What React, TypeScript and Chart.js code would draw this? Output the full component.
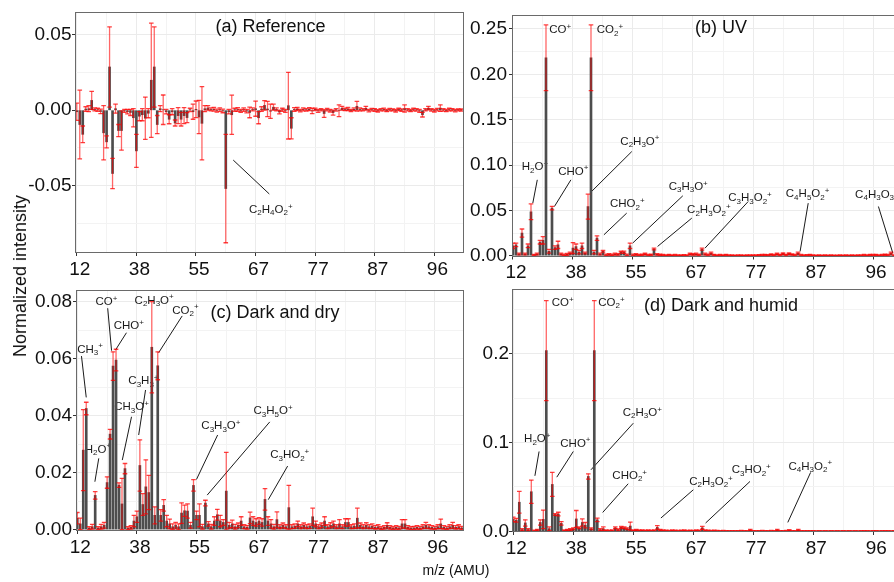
import React, { useEffect, useRef } from 'react';
import { Chart, registerables } from 'chart.js';

Chart.register(...registerables);

const FONT = "'Liberation Sans', Arial, Helvetica, sans-serif";

// x axis: ion index (categories), labelled every 20 ions with the nominal m/z
const tickIdx = [0, 20, 40, 60, 80, 100, 120];
const tickLabels = ['12', '38', '55', '67', '77', '87', '96'];
const minorIdx = [10, 30, 50, 70, 90, 110];

// (a) Reference
const refValues = [
  -0.001, -0.0095, -0.016, 0.0008, 0.001, 0.0065, 0.0005, 0.0003, -0.0008, -0.015,
  -0.021, 0.0287, -0.042, 0.001, -0.0135, -0.0135, -0.0005, -0.001, -0.0015, -0.005,
  -0.027, -0.004, -0.003, -0.0053, -0.002, 0.0199, 0.0287, -0.0095, 0.001, 0.0003,
  -0.001, -0.006, -0.001, -0.0085, -0.0036, -0.006, -0.0036, -0.0049, 0.0002, -0.001,
  0.0006, -0.0045, -0.0087, 0.001, 0.0015, 0.0005, 0.0006, -0.0003, 0.0004, -0.0005,
  -0.052, -0.001, -0.003, 0.0003, 0.0005, -0.0005, 0.0004, -0.0006, -0.0015, 0.0005,
  0.001, -0.005, 0.0008, 0.0032, 0.0008, -0.0007, 0.002, 0.0005, -0.0012, 0.0003,
  -0.0004, 0.003, -0.012, 0.0005, 0.0008, -0.0003, 0.0005, 0.0002, 0.0007, -0.0005,
  0.0006, -0.0004, 0.0003, -0.0022, 0.0004, -0.0003, -0.0016, 0.0002, -0.0003, 0.0013,
  0.0005, 0.0008, -0.0002, 0.0006, 0.0026, 0.0005, 0.0003, 0.0013, -0.0003, 0.0004,
  0.0002, -0.0004, 0.0003, 0.0005, -0.0002, 0.0004, 0.0002, -0.0003, 0.0005, 0.0001,
  0.0011, 0.0003, -0.0002, 0.0004, 0.0002, -0.0005, -0.003, 0.0003, 0.0014, 0.0002,
  -0.0003, 0.0004, 0.0014, 0.0002, -0.0002, 0.0004, 0.0003, -0.0003, 0.0002, 0.0001,
];
const refErrors = [
  0.0057, 0.0228, 0.0055, 0.0015, 0.002, 0.006, 0.001, 0.001, 0.0015, 0.018,
  0.004, 0.0266, 0.01, 0.003, 0.004, 0.013, 0.001, 0.0015, 0.002, 0.006,
  0.011, 0.003, 0.004, 0.014, 0.003, 0.0379, 0.0266, 0.006, 0.002, 0.0098,
  0.0015, 0.003, 0.002, 0.002, 0.0053, 0.0045, 0.0053, 0.0033, 0.0011, 0.005,
  0.0055, 0.011, 0.0243, 0.002, 0.0015, 0.001, 0.0012, 0.001, 0.0012, 0.0012,
  0.036, 0.0015, 0.013, 0.001, 0.0012, 0.001, 0.0011, 0.0012, 0.0035, 0.001,
  0.005, 0.004, 0.0015, 0.0032, 0.005, 0.0047, 0.002, 0.001, 0.0012, 0.001,
  0.001, 0.0221, 0.007, 0.0012, 0.001, 0.0008, 0.001, 0.0008, 0.001, 0.0018,
  0.0008, 0.001, 0.0008, 0.0026, 0.0008, 0.0009, 0.0016, 0.0008, 0.0039, 0.0013,
  0.0008, 0.001, 0.0008, 0.0009, 0.0032, 0.001, 0.0008, 0.0013, 0.0008, 0.0008,
  0.0009, 0.0008, 0.0007, 0.0009, 0.0008, 0.0008, 0.0007, 0.0009, 0.0008, 0.0008,
  0.0024, 0.0008, 0.0008, 0.0009, 0.0008, 0.001, 0.0015, 0.0008, 0.0012, 0.0008,
  0.0009, 0.0008, 0.0022, 0.0008, 0.0007, 0.0009, 0.0008, 0.0008, 0.0007, 0.0007,
];

// (b) UV
const uvValues = [
  0.011, 0.012, 0.002, 0.025, 0.002, 0.011, 0.0485, 0.001, 0.002, 0.015,
  0.017, 0.2183, 0.005, 0.0525, 0.009, 0.012, 0.002, 0.001, 0.0015, 0.003,
  0.0085, 0.01, 0.004, 0.011, 0.003, 0.0541, 0.2183, 0.004, 0.0195, 0.002,
  0.005, 0.001, 0.0015, 0.001, 0.002, 0.0015, 0.004, 0.004, 0.001, 0.011,
  0.001, 0.0015, 0.0008, 0.001, 0.002, 0.0008, 0.0012, 0.0075, 0.0015, 0.001,
  0.0008, 0.0006, 0.001, 0.0005, 0.0008, 0.0006, 0.0005, 0.0007, 0.0006, 0.002,
  0.0015, 0.002, 0.001, 0.0073, 0.002, 0.001, 0.003, 0.001, 0.0006, 0.0008,
  0.0005, 0.001, 0.0006, 0.0005, 0.0004, 0.0006, 0.0005, 0.0004, 0.0005, 0.0006,
  0.0005, 0.0006, 0.0007, 0.0008, 0.001, 0.0007, 0.0015, 0.0008, 0.002, 0.001,
  0.0025, 0.001, 0.0025, 0.0015, 0.0008, 0.003, 0.0008, 0.0006, 0.0007, 0.001,
  0.0005, 0.0004, 0.0005, 0.0004, 0.0005, 0.0004, 0.0005, 0.0004, 0.0004, 0.0005,
  0.0004, 0.0005, 0.0004, 0.0005, 0.0004, 0.0005, 0.0006, 0.0008, 0.0006, 0.001,
  0.0008, 0.001, 0.0006, 0.0008, 0.0012, 0.0008, 0.003, 0.0006, 0.0005, 0.0004,
];
const uvErrors = [
  0.003, 0.002, 0.001, 0.0045, 0.001, 0.002, 0.0086, 0.0005, 0.001, 0.002,
  0.004, 0.0362, 0.002, 0.002, 0.002, 0.004, 0.001, 0.0008, 0.001, 0.001,
  0.006, 0.003, 0.002, 0.003, 0.001, 0.0138, 0.0362, 0.002, 0.0025, 0.001,
  0.001, 0.0008, 0.0008, 0.0008, 0.001, 0.0008, 0.001, 0.0012, 0.0008, 0.003,
  0.0008, 0.0008, 0.0006, 0.0007, 0.0008, 0.0006, 0.0007, 0.001, 0.0008, 0.0007,
  0.0006, 0.0005, 0.0006, 0.0005, 0.0006, 0.0005, 0.0005, 0.0005, 0.0005, 0.0008,
  0.0008, 0.0009, 0.0007, 0.0011, 0.001, 0.0007, 0.001, 0.0006, 0.0005, 0.0006,
  0.0005, 0.0006, 0.0005, 0.0005, 0.0004, 0.0005, 0.0005, 0.0004, 0.0005, 0.0005,
  0.0005, 0.0005, 0.0005, 0.0006, 0.0006, 0.0005, 0.0007, 0.0006, 0.0008, 0.0006,
  0.0008, 0.0006, 0.0008, 0.0007, 0.0006, 0.001, 0.0006, 0.0005, 0.0005, 0.0006,
  0.0005, 0.0004, 0.0005, 0.0004, 0.0005, 0.0004, 0.0005, 0.0004, 0.0004, 0.0005,
  0.0004, 0.0005, 0.0004, 0.0005, 0.0004, 0.0005, 0.0005, 0.0006, 0.0005, 0.0006,
  0.0006, 0.0006, 0.0005, 0.0006, 0.0007, 0.0006, 0.001, 0.0005, 0.0005, 0.0004,
];

// (c) Dark and dry
const dryValues = [
  0.004, 0.002, 0.0279, 0.0425, 0.0005, 0.001, 0.012, 0.0005, 0.001, 0.0015,
  0.0165, 0.0335, 0.0574, 0.0595, 0.0156, 0.009, 0.0214, 0.0005, 0.0008, 0.003,
  0.0045, 0.0225, 0.0088, 0.015, 0.013, 0.064, 0.005, 0.0575, 0.005, 0.0085,
  0.003, 0.002, 0.001, 0.0015, 0.001, 0.0058, 0.0066, 0.0065, 0.0015, 0.0155,
  0.005, 0.005, 0.001, 0.0093, 0.002, 0.001, 0.003, 0.0052, 0.003, 0.0025,
  0.0135, 0.0015, 0.002, 0.001, 0.0015, 0.003, 0.001, 0.0008, 0.0041, 0.003,
  0.0025, 0.003, 0.0025, 0.0106, 0.003, 0.002, 0.001, 0.0035, 0.001, 0.0015,
  0.001, 0.0077, 0.001, 0.0012, 0.002, 0.001, 0.0015, 0.001, 0.0012, 0.0045,
  0.002, 0.001, 0.0015, 0.003, 0.001, 0.0015, 0.002, 0.001, 0.002, 0.001,
  0.0025, 0.0025, 0.001, 0.0012, 0.004, 0.0015, 0.001, 0.0015, 0.001, 0.0012,
  0.0008, 0.001, 0.0005, 0.0008, 0.0015, 0.0008, 0.0005, 0.0008, 0.0006, 0.002,
  0.002, 0.0008, 0.0005, 0.0006, 0.0008, 0.0006, 0.001, 0.0015, 0.001, 0.0008,
  0.0006, 0.001, 0.002, 0.0008, 0.0006, 0.001, 0.0015, 0.0008, 0.001, 0.0006,
];
const dryErrors = [
  0.002, 0.002, 0.0142, 0.0022, 0.0005, 0.0008, 0.0013, 0.0005, 0.0008, 0.001,
  0.002, 0.0017, 0.005, 0.0038, 0.0008, 0.009, 0.0018, 0.0005, 0.0006, 0.002,
  0.002, 0.009, 0.0038, 0.0095, 0.006, 0.016, 0.003, 0.0049, 0.002, 0.002,
  0.002, 0.0017, 0.001, 0.001, 0.001, 0.0036, 0.002, 0.0025, 0.001, 0.002,
  0.0015, 0.004, 0.0008, 0.001, 0.0008, 0.0008, 0.0015, 0.0019, 0.002, 0.001,
  0.0136, 0.001, 0.0013, 0.0008, 0.0008, 0.0015, 0.0007, 0.0006, 0.002, 0.0015,
  0.0013, 0.0012, 0.0013, 0.0038, 0.0015, 0.0015, 0.0008, 0.0027, 0.0007, 0.0008,
  0.0007, 0.0078, 0.0007, 0.0008, 0.001, 0.0007, 0.0008, 0.0007, 0.0008, 0.003,
  0.001, 0.0007, 0.0008, 0.0015, 0.0007, 0.0009, 0.001, 0.0007, 0.0015, 0.0007,
  0.0013, 0.0013, 0.0007, 0.0008, 0.0035, 0.0008, 0.0007, 0.0009, 0.0007, 0.0008,
  0.0006, 0.0007, 0.0005, 0.0006, 0.0009, 0.0006, 0.0005, 0.0006, 0.0005, 0.0015,
  0.0015, 0.0006, 0.0005, 0.0005, 0.0006, 0.0005, 0.0007, 0.001, 0.0007, 0.0006,
  0.0005, 0.0007, 0.0017, 0.0006, 0.0005, 0.0007, 0.001, 0.0006, 0.0007, 0.0005,
];

// (d) Dark and humid
const humidValues = [
  0.0135, 0.0125, 0.0328, 0.002, 0.0095, 0.002, 0.0446, 0.0008, 0.0015, 0.01,
  0.0135, 0.2034, 0.003, 0.0528, 0.019, 0.0195, 0.009, 0.001, 0.0015, 0.002,
  0.003, 0.014, 0.004, 0.01, 0.007, 0.0618, 0.003, 0.2034, 0.013, 0.002,
  0.003, 0.001, 0.0008, 0.001, 0.004, 0.002, 0.0045, 0.004, 0.003, 0.006,
  0.001, 0.0015, 0.001, 0.0012, 0.0008, 0.001, 0.0008, 0.001, 0.0045, 0.0015,
  0.001, 0.0008, 0.0006, 0.001, 0.0008, 0.0006, 0.0008, 0.001, 0.0006, 0.0008,
  0.0006, 0.001, 0.0008, 0.004, 0.001, 0.0008, 0.0006, 0.0008, 0.0006, 0.0005,
  0.0006, 0.0005, 0.0004, 0.0005, 0.0004, 0.0005, 0.0006, 0.0005, 0.0004, 0.0015,
  0.0005, 0.0004, 0.0005, 0.0006, 0.0005, 0.0004, 0.0006, 0.0005, 0.0015, 0.0005,
  0.0004, 0.0006, 0.0012, 0.0005, 0.0004, 0.0015, 0.0005, 0.0004, 0.0005, 0.0004,
  0.0004, 0.0003, 0.0004, 0.0003, 0.0004, 0.0003, 0.0004, 0.0003, 0.0004, 0.0003,
  0.0004, 0.0003, 0.0004, 0.0003, 0.0004, 0.0003, 0.0004, 0.0005, 0.0004, 0.0003,
  0.0004, 0.0005, 0.0003, 0.0004, 0.0005, 0.0004, 0.0003, 0.0004, 0.0003, 0.0004,
];
const humidErrors = [
  0.0025, 0.002, 0.0122, 0.001, 0.0035, 0.001, 0.0131, 0.0005, 0.0008, 0.003,
  0.0105, 0.0562, 0.002, 0.0135, 0.001, 0.002, 0.002, 0.0006, 0.0008, 0.001,
  0.001, 0.0095, 0.001, 0.004, 0.003, 0.003, 0.001, 0.0562, 0.002, 0.001,
  0.002, 0.0006, 0.0005, 0.0006, 0.001, 0.0008, 0.001, 0.001, 0.001, 0.0045,
  0.0006, 0.0007, 0.0006, 0.0006, 0.0005, 0.0006, 0.0005, 0.0006, 0.002, 0.0007,
  0.0006, 0.0005, 0.0005, 0.0006, 0.0005, 0.0005, 0.0005, 0.0006, 0.0005, 0.0005,
  0.0005, 0.0006, 0.0005, 0.0016, 0.0006, 0.0005, 0.0005, 0.0005, 0.0005, 0.0004,
  0.0005, 0.0004, 0.0004, 0.0004, 0.0004, 0.0004, 0.0005, 0.0004, 0.0004, 0.0008,
  0.0004, 0.0004, 0.0004, 0.0005, 0.0004, 0.0004, 0.0005, 0.0004, 0.0008, 0.0004,
  0.0004, 0.0005, 0.0007, 0.0004, 0.0004, 0.0008, 0.0004, 0.0004, 0.0004, 0.0004,
  0.0004, 0.0003, 0.0004, 0.0003, 0.0004, 0.0003, 0.0004, 0.0003, 0.0004, 0.0003,
  0.0004, 0.0003, 0.0004, 0.0003, 0.0004, 0.0003, 0.0004, 0.0004, 0.0004, 0.0003,
  0.0004, 0.0004, 0.0003, 0.0004, 0.0004, 0.0004, 0.0003, 0.0004, 0.0003, 0.0004,
];

// ion labels (position in data units: ion index, intensity)
type Label = { t: string; x: number; y: number; left?: boolean };
type Leader = [number, number, number, number];

const refLabels: Label[] = [{ t: 'C2H4O2+', x: 65.1, y: -0.0654 }];
const refLeaders: Leader[] = [[52.5, -0.0331, 64.6, -0.0556]];

const uvLabels: Label[] = [
  { t: 'CO+', x: 12.1, y: 0.2496, left: true },
  { t: 'CO2+', x: 27.9, y: 0.2496, left: true },
  { t: 'H2O+', x: 7.3, y: 0.0991 },
  { t: 'CHO+', x: 20.1, y: 0.094 },
  { t: 'C2H3O+', x: 42.3, y: 0.127 },
  { t: 'CHO2+', x: 38.1, y: 0.058 },
  { t: 'C3H3O+', x: 58.4, y: 0.0771 },
  { t: 'C2H3O2+', x: 65.3, y: 0.0514 },
  { t: 'C3H3O2+', x: 79, y: 0.0646 },
  { t: 'C4H5O2+', x: 98.2, y: 0.069 },
  { t: 'C4H3O3+', x: 121.3, y: 0.0683 },
];
const uvLeaders: Leader[] = [
  [8.1, 0.0837, 6.6, 0.058], [19.3, 0.0837, 13.8, 0.0543], [39.6, 0.1149, 26.2, 0.0709],
  [37.9, 0.047, 30.3, 0.0231], [56.6, 0.0661, 39.9, 0.014], [59.6, 0.0415, 48.2, 0.0103],
  [78.4, 0.0598, 64, 0.0084], [98.4, 0.058, 95.7, 0.0048], [121.8, 0.0543, 126.6, 0.003],
];

const dryLabels: Label[] = [
  { t: 'CO+', x: 9.8, y: 0.0803 },
  { t: 'C2H3O+', x: 25.8, y: 0.0808 },
  { t: 'CO2+', x: 36.3, y: 0.0773 },
  { t: 'CHO+', x: 17.3, y: 0.0718 },
  { t: 'CH3+', x: 4.3, y: 0.0636 },
  { t: 'C3H3+', x: 22.2, y: 0.0525 },
  { t: 'CH3O+', x: 18.2, y: 0.0434 },
  { t: 'H2O+', x: 6.9, y: 0.0285 },
  { t: 'C3H3O+', x: 48.2, y: 0.0367 },
  { t: 'C3H5O+', x: 65.7, y: 0.0419 },
  { t: 'C3HO2+', x: 71.3, y: 0.0265 },
];
const dryLeaders: Leader[] = [
  [10.2, 0.0777, 11.5, 0.0628], [35.2, 0.075, 27.3, 0.0621], [16.5, 0.0691, 12.8, 0.063],
  [1.4, 0.0609, 3.0, 0.0464], [22.9, 0.049, 20.6, 0.0332], [18.2, 0.0396, 15.1, 0.0244],
  [7.2, 0.025, 5.9, 0.0168], [47.1, 0.0332, 40, 0.0176], [64.6, 0.0378, 43.6, 0.0121],
  [70.6, 0.0223, 64.1, 0.0105],
];

const humidLabels: Label[] = [
  { t: 'CO+', x: 12.8, y: 0.2584, left: true },
  { t: 'CO2+', x: 28.3, y: 0.2584, left: true },
  { t: 'H2O+', x: 8, y: 0.1049 },
  { t: 'CHO+', x: 20.7, y: 0.1 },
  { t: 'C2H3O+', x: 43, y: 0.1348 },
  { t: 'CHO2+', x: 38.8, y: 0.0637 },
  { t: 'C2H3O2+', x: 65.9, y: 0.0569 },
  { t: 'C3HO2+', x: 79.3, y: 0.07 },
  { t: 'C4H3O2+', x: 99, y: 0.0742 },
];
const humidLeaders: Leader[] = [
  [8.6, 0.0899, 7.2, 0.0625], [20, 0.0899, 14.5, 0.061], [40, 0.1217, 25.9, 0.0693],
  [38.3, 0.0536, 29.8, 0.0213], [60, 0.0468, 49.2, 0.015], [78.9, 0.0562, 64.1, 0.0094],
  [99.1, 0.0663, 91.5, 0.0101],
];

type Spec = {
  title: string; titleDx: number; titleDy: number;
  values: number[]; errors: number[]; labels: Label[]; leaders: Leader[];
  left: number; top: number; w: number; h: number;
  padTop: number; padRight: number; yAxisW: number; xAxisH: number; yPad: number;
  xMin: number; xMax: number; yMin: number; yMax: number;
  yTicks: number[]; yLabelStep: number; yDec: number;
};

const panels: Spec[] = [
  {
    title: '(a) Reference', titleDx: 195.5, titleDy: 13.6,
    values: refValues, errors: refErrors, labels: refLabels, leaders: refLeaders,
    left: 0, top: -2, w: 470, h: 292, padTop: 14, padRight: 6, yAxisW: 75, xAxisH: 37, yPad: 0.5,
    xMin: -0.6, xMax: 129.94, yMin: -0.0948, yMax: 0.0652,
    yTicks: [-0.075, -0.05, -0.025, 0, 0.025, 0.05], yLabelStep: 0.05, yDec: 2,
  },
  {
    title: '(b) UV', titleDx: 209, titleDy: 11.7,
    values: uvValues, errors: uvErrors, labels: uvLabels, leaders: uvLeaders,
    left: 470, top: 1, w: 440, h: 290, padTop: 14, padRight: 9, yAxisW: 42, xAxisH: 34.5, yPad: 2,
    xMin: -0.33, xMax: 129.33, yMin: -0.0008, yMax: 0.2654,
    yTicks: [0, 0.025, 0.05, 0.075, 0.1, 0.125, 0.15, 0.175, 0.2, 0.225, 0.25], yLabelStep: 0.05, yDec: 2,
  },
  {
    title: '(c) Dark and dry', titleDx: 199, titleDy: 22,
    values: dryValues, errors: dryErrors, labels: dryLabels, leaders: dryLeaders,
    left: 0, top: 276, w: 470, h: 292, padTop: 14, padRight: 6, yAxisW: 76, xAxisH: 37, yPad: 1,
    xMin: -0.44, xMax: 129.8, yMin: -0.0005, yMax: 0.0841,
    yTicks: [0, 0.01, 0.02, 0.03, 0.04, 0.05, 0.06, 0.07, 0.08], yLabelStep: 0.02, yDec: 2,
  },
  {
    title: '(d) Dark and humid', titleDx: 209, titleDy: 15.7,
    values: humidValues, errors: humidErrors, labels: humidLabels, leaders: humidLeaders,
    left: 470, top: 275, w: 440, h: 292, padTop: 14, padRight: 9, yAxisW: 42, xAxisH: 35, yPad: 0,
    xMin: -0.43, xMax: 129.23, yMin: -0.0007, yMax: 0.2727,
    yTicks: [0, 0.05, 0.1, 0.15, 0.2, 0.25], yLabelStep: 0.1, yDec: 1,
  },
];

function drawFormula(ctx: CanvasRenderingContext2D, text: string, x: number, yc: number, left: boolean) {
  const main = 11.5;
  const small = 8;
  const segs: { kind: string; s: string; w: number }[] = [];
  for (const ch of text) {
    const kind = ch >= '0' && ch <= '9' ? 'sub' : ch === '+' ? 'sup' : 'n';
    const last = segs[segs.length - 1];
    if (last && last.kind === kind) last.s += ch;
    else segs.push({ kind, s: ch, w: 0 });
  }
  let total = 0;
  for (const sg of segs) {
    ctx.font = `${sg.kind === 'n' ? main : small}px ${FONT}`;
    sg.w = ctx.measureText(sg.s).width;
    total += sg.w;
  }
  let cx = left ? x : x - total / 2;
  const base = yc + main * 0.36;
  ctx.textBaseline = 'alphabetic';
  ctx.textAlign = 'left';
  for (const sg of segs) {
    ctx.font = `${sg.kind === 'n' ? main : small}px ${FONT}`;
    const dy = sg.kind === 'sub' ? 2.5 : sg.kind === 'sup' ? -4.2 : 0;
    ctx.fillText(sg.s, cx, base + dy);
    cx += sg.w;
  }
}

function buildConfig(p: Spec): any {
  const isMajorX = (v: number) => tickIdx.indexOf(Math.round(v)) >= 0;
  const isMajorY = (v: number) => Math.abs(v / p.yLabelStep - Math.round(v / p.yLabelStep)) < 1e-6;

  const annotations = {
    id: 'annotations',
    beforeDatasetsDraw(chart: any) {
      const ctx: CanvasRenderingContext2D = chart.ctx;
      const xs = chart.scales.x;
      const ys = chart.scales.y;
      const a = chart.chartArea;
      ctx.save();
      ctx.fillStyle = '#111';
      ctx.font = `18px ${FONT}`;
      ctx.textAlign = 'center';
      ctx.textBaseline = 'alphabetic';
      ctx.fillText(p.title, a.left + p.titleDx, a.top + p.titleDy + 18 * 0.36);
      ctx.strokeStyle = 'rgba(0,0,0,0.9)';
      ctx.lineWidth = 1;
      for (const [x1, y1, x2, y2] of p.leaders) {
        ctx.beginPath();
        ctx.moveTo(xs.getPixelForValue(x1), ys.getPixelForValue(y1));
        ctx.lineTo(xs.getPixelForValue(x2), ys.getPixelForValue(y2));
        ctx.stroke();
      }
      ctx.fillStyle = '#1a1a1a';
      for (const l of p.labels) {
        drawFormula(ctx, l.t, xs.getPixelForValue(l.x), ys.getPixelForValue(l.y), !!l.left);
      }
      ctx.restore();
    },
  };

  const errorBars = {
    id: 'errorBars',
    afterDatasetsDraw(chart: any) {
      const ds = chart.data.datasets[0];
      const xs = chart.scales.x;
      const ys = chart.scales.y;
      const ctx: CanvasRenderingContext2D = chart.ctx;
      const a = chart.chartArea;
      ctx.save();
      ctx.beginPath();
      ctx.rect(a.left, a.top, a.right - a.left, a.bottom - a.top);
      ctx.clip();
      ctx.lineWidth = 1.3;
      ds.data.forEach((pt: { x: number; y: number }, i: number) => {
        const e = ds.errors[i];
        const px = xs.getPixelForValue(pt.x);
        const yt = ys.getPixelForValue(pt.y + e);
        const yb = ys.getPixelForValue(pt.y - e);
        ctx.strokeStyle = 'rgba(255,0,0,0.6)';
        ctx.beginPath();
        ctx.moveTo(px, yt);
        ctx.lineTo(px, yb);
        ctx.stroke();
        ctx.strokeStyle = 'rgba(255,0,0,0.75)';
        ctx.beginPath();
        ctx.moveTo(px - 2.3, yt);
        ctx.lineTo(px + 2.3, yt);
        ctx.moveTo(px - 2.3, yb);
        ctx.lineTo(px + 2.3, yb);
        ctx.stroke();
      });
      ctx.restore();
    },
  };

  const frame = {
    id: 'frame',
    afterDraw(chart: any) {
      const ctx: CanvasRenderingContext2D = chart.ctx;
      const a = chart.chartArea;
      ctx.save();
      ctx.strokeStyle = '#6a6a6a';
      ctx.lineWidth = 1;
      ctx.strokeRect(Math.round(a.left) + 0.5, Math.round(a.top) + 0.5, Math.round(a.right - a.left) - 1, Math.round(a.bottom - a.top) - 1);
      ctx.restore();
    },
  };

  return {
    type: 'bar',
    data: {
      datasets: [
        {
          data: p.values.map((v, i) => ({ x: i, y: v })),
          errors: p.errors,
          backgroundColor: '#4d4d4d',
          borderWidth: 0,
          barThickness: 2,
        },
      ],
    },
    options: {
      animation: false,
      responsive: false,
      devicePixelRatio: 1,
      events: [],
      layout: { padding: { top: p.padTop, right: p.padRight, bottom: 0, left: 0 } },
      plugins: { legend: { display: false }, tooltip: { enabled: false }, title: { display: false } },
      scales: {
        x: {
          type: 'linear',
          min: p.xMin,
          max: p.xMax,
          bounds: 'data',
          offset: false,
          afterBuildTicks: (s: any) => {
            s.ticks = [...tickIdx, ...minorIdx].sort((m, n) => m - n).map((v) => ({ value: v }));
          },
          afterFit: (s: any) => {
            s.height = p.xAxisH;
          },
          ticks: {
            autoSkip: false,
            maxRotation: 0,
            minRotation: 0,
            padding: 2,
            labelOffset: 3,
            color: '#111',
            font: { family: FONT, size: 19 },
            callback: (v: number) => {
              const k = tickIdx.indexOf(Math.round(v));
              return k >= 0 ? tickLabels[k] : '';
            },
          },
          grid: {
            offset: false,
            drawTicks: true,
            tickLength: 3,
            tickWidth: 1,
            lineWidth: 1,
            color: (c: any) => (c.tick && isMajorX(c.tick.value) ? '#ebebeb' : '#f3f3f3'),
            tickColor: (c: any) => (c.tick && isMajorX(c.tick.value) ? '#333' : 'rgba(0,0,0,0)'),
          },
          border: { display: false },
        },
        y: {
          type: 'linear',
          min: p.yMin,
          max: p.yMax,
          bounds: 'data',
          afterBuildTicks: (s: any) => {
            s.ticks = p.yTicks.map((v) => ({ value: v }));
          },
          afterFit: (s: any) => {
            s.width = p.yAxisW;
          },
          ticks: {
            autoSkip: false,
            padding: p.yPad,
            color: '#111',
            font: { family: FONT, size: 19 },
            callback: (v: number) => (isMajorY(v) ? Number(v).toFixed(p.yDec) : ''),
          },
          grid: {
            drawTicks: true,
            tickLength: 3,
            tickWidth: 1,
            lineWidth: 1,
            color: (c: any) => (c.tick && isMajorY(c.tick.value) ? '#ebebeb' : '#f3f3f3'),
            tickColor: (c: any) => (c.tick && isMajorY(c.tick.value) ? '#333' : 'rgba(0,0,0,0)'),
          },
          border: { display: false },
        },
      },
    },
    plugins: [annotations, errorBars, frame],
  };
}

function Panel({ spec }: { spec: Spec }) {
  const ref = useRef<HTMLCanvasElement>(null);
  useEffect(() => {
    const chart = new Chart(ref.current as HTMLCanvasElement, buildConfig(spec));
    return () => chart.destroy();
  }, [spec]);
  return (
    <canvas
      ref={ref}
      width={spec.w}
      height={spec.h}
      style={{ position: 'absolute', left: spec.left, top: spec.top, width: spec.w, height: spec.h }}
    />
  );
}

export default function App() {
  return (
    <div
      style={{
        position: 'fixed',
        left: 0,
        top: 0,
        width: 894,
        height: 582,
        overflow: 'hidden',
        background: '#fff',
        fontFamily: FONT,
      }}
    >
      {panels.map((p) => (
        <Panel key={p.title} spec={p} />
      ))}
      <div
        style={{
          position: 'absolute',
          left: 20,
          top: 276,
          transform: 'translate(-50%, -50%) rotate(-90deg)',
          whiteSpace: 'nowrap',
          fontSize: 18,
          lineHeight: 1,
          color: '#111',
        }}
      >
        Normalized intensity
      </div>
      <div
        style={{
          position: 'absolute',
          left: 456,
          top: 570,
          transform: 'translate(-50%, -50%)',
          whiteSpace: 'nowrap',
          fontSize: 14,
          lineHeight: 1,
          color: '#111',
        }}
      >
        m/z (AMU)
      </div>
    </div>
  );
}
